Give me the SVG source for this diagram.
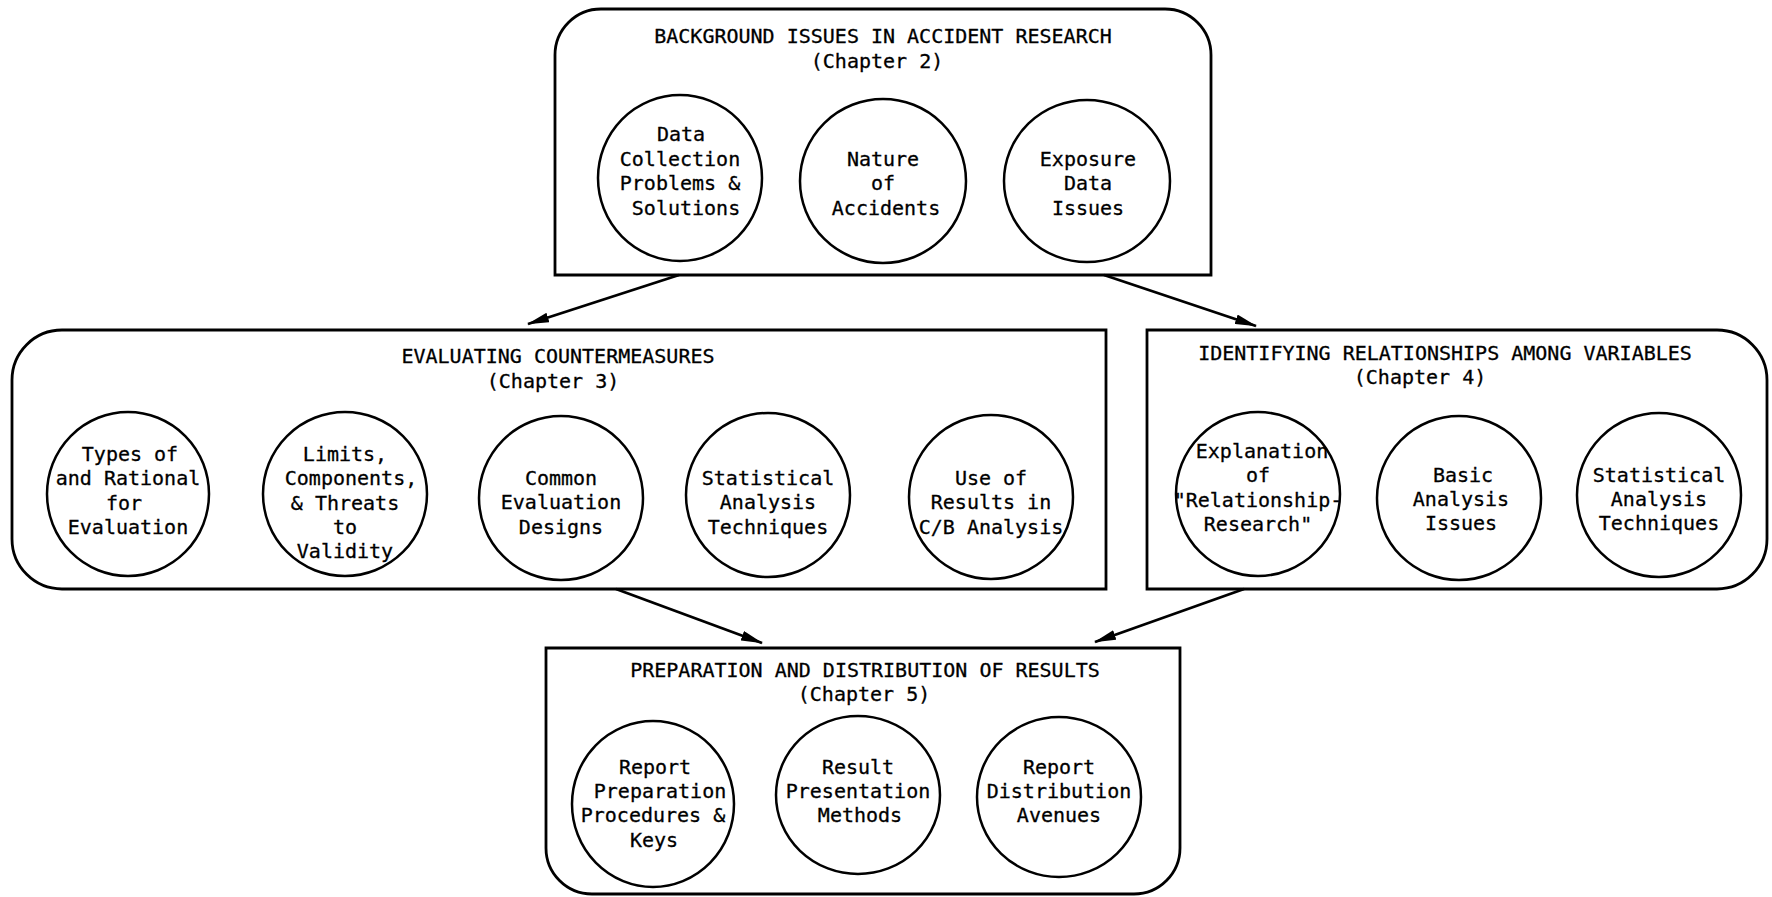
<svg xmlns="http://www.w3.org/2000/svg" width="1772" height="897" viewBox="0 0 1772 897">
<style>
.box{fill:none;stroke:#000;stroke-width:2.8}
.c{fill:none;stroke:#000;stroke-width:2.5}
text{font-family:"DejaVu Sans Mono","Liberation Mono",monospace;font-size:20px;fill:#000;stroke:#000;stroke-width:0.3;text-anchor:middle}
.ln{stroke:#000;stroke-width:2.8;fill:none}
</style>
<defs>
<marker id="ah" viewBox="0 0 22 10" refX="21" refY="5" markerWidth="22" markerHeight="10" markerUnits="userSpaceOnUse" orient="auto">
<path d="M0,0 L22,5 L0,10 Z" fill="#000"/>
</marker>
</defs>
<rect width="1772" height="897" fill="#fff"/>
<g id="connectors">
<line class="ln" x1="679" y1="275" x2="528" y2="324" marker-end="url(#ah)"/>
<line class="ln" x1="1104" y1="275" x2="1256" y2="326" marker-end="url(#ah)"/>
<line class="ln" x1="616" y1="589" x2="762" y2="643" marker-end="url(#ah)"/>
<line class="ln" x1="1244" y1="589" x2="1095" y2="642" marker-end="url(#ah)"/>
</g>
<g id="ch2">
<path class="box" d="M555,275 V55 A46,46 0 0 1 601,9 H1165 A46,46 0 0 1 1211,55 V275 Z"/>
<text x="883" y="43">BACKGROUND ISSUES IN ACCIDENT RESEARCH</text>
<text x="877" y="68">(Chapter 2)</text>
<g id="ch2a"><ellipse class="c" cx="680" cy="178" rx="82" ry="83"/>
<text x="681" y="141">Data</text><text x="680" y="166">Collection</text><text x="680" y="190">Problems &amp;</text><text x="686" y="215">Solutions</text></g>
<g id="ch2b"><ellipse class="c" cx="883" cy="181" rx="83" ry="82"/>
<text x="883" y="166">Nature</text><text x="883" y="190">of</text><text x="886" y="215">Accidents</text></g>
<g id="ch2c"><ellipse class="c" cx="1087" cy="181" rx="83" ry="81"/>
<text x="1088" y="166">Exposure</text><text x="1088" y="190">Data</text><text x="1088" y="215">Issues</text></g>
</g>
<g id="ch3">
<path class="box" d="M1106,330 H62 A50,50 0 0 0 12,380 V539 A50,50 0 0 0 62,589 H1106 Z"/>
<text x="558" y="363">EVALUATING COUNTERMEASURES</text>
<text x="553" y="388">(Chapter 3)</text>
<g id="ch3a"><ellipse class="c" cx="128" cy="494" rx="81" ry="82"/>
<text x="130" y="461">Types of</text><text x="128" y="485">and Rational</text><text x="124" y="510">for</text><text x="128" y="534">Evaluation</text></g>
<g id="ch3b"><ellipse class="c" cx="345" cy="494" rx="82" ry="82"/>
<text x="345" y="461">Limits,</text><text x="351" y="485">Components,</text><text x="345" y="510">&amp; Threats</text><text x="345" y="534">to</text><text x="345" y="558">Validity</text></g>
<g id="ch3c"><ellipse class="c" cx="561" cy="498" rx="82" ry="82"/>
<text x="561" y="485">Common</text><text x="561" y="509">Evaluation</text><text x="561" y="534">Designs</text></g>
<g id="ch3d"><ellipse class="c" cx="768" cy="495" rx="82" ry="82"/>
<text x="768" y="485">Statistical</text><text x="768" y="509">Analysis</text><text x="768" y="534">Techniques</text></g>
<g id="ch3e"><ellipse class="c" cx="991" cy="497" rx="82" ry="82"/>
<text x="991" y="485">Use of</text><text x="991" y="509">Results in</text><text x="991" y="534">C/B Analysis</text></g>
</g>
<g id="ch4">
<path class="box" d="M1147,330 H1717 A50,50 0 0 1 1767,380 V539 A50,50 0 0 1 1717,589 H1147 Z"/>
<text x="1445" y="360">IDENTIFYING RELATIONSHIPS AMONG VARIABLES</text>
<text x="1420" y="384">(Chapter 4)</text>
<g id="ch4a"><ellipse class="c" cx="1258" cy="494" rx="82" ry="82"/>
<text x="1262" y="458">Explanation</text><text x="1258" y="482">of</text><text x="1258" y="507">"Relationship-</text><text x="1258" y="531">Research"</text></g>
<g id="ch4b"><ellipse class="c" cx="1459" cy="498" rx="82" ry="82"/>
<text x="1463" y="482">Basic</text><text x="1461" y="506">Analysis</text><text x="1461" y="530">Issues</text></g>
<g id="ch4c"><ellipse class="c" cx="1659" cy="495" rx="82" ry="82"/>
<text x="1659" y="482">Statistical</text><text x="1659" y="506">Analysis</text><text x="1659" y="530">Techniques</text></g>
</g>
<g id="ch5">
<path class="box" d="M546,648 H1180 V848 A46,46 0 0 1 1134,894 H592 A46,46 0 0 1 546,848 Z"/>
<text x="865" y="677">PREPARATION AND DISTRIBUTION OF RESULTS</text>
<text x="864" y="701">(Chapter 5)</text>
<g id="ch5a"><ellipse class="c" cx="653" cy="804" rx="81" ry="83"/>
<text x="655" y="774">Report</text><text x="660" y="798">Preparation</text><text x="653" y="822">Procedures &amp;</text><text x="654" y="847">Keys</text></g>
<g id="ch5b"><ellipse class="c" cx="858" cy="795" rx="82" ry="79"/>
<text x="858" y="774">Result</text><text x="858" y="798">Presentation</text><text x="860" y="822">Methods</text></g>
<g id="ch5c"><ellipse class="c" cx="1059" cy="797" rx="82" ry="80"/>
<text x="1059" y="774">Report</text><text x="1059" y="798">Distribution</text><text x="1059" y="822">Avenues</text></g>
</g>
</svg>
